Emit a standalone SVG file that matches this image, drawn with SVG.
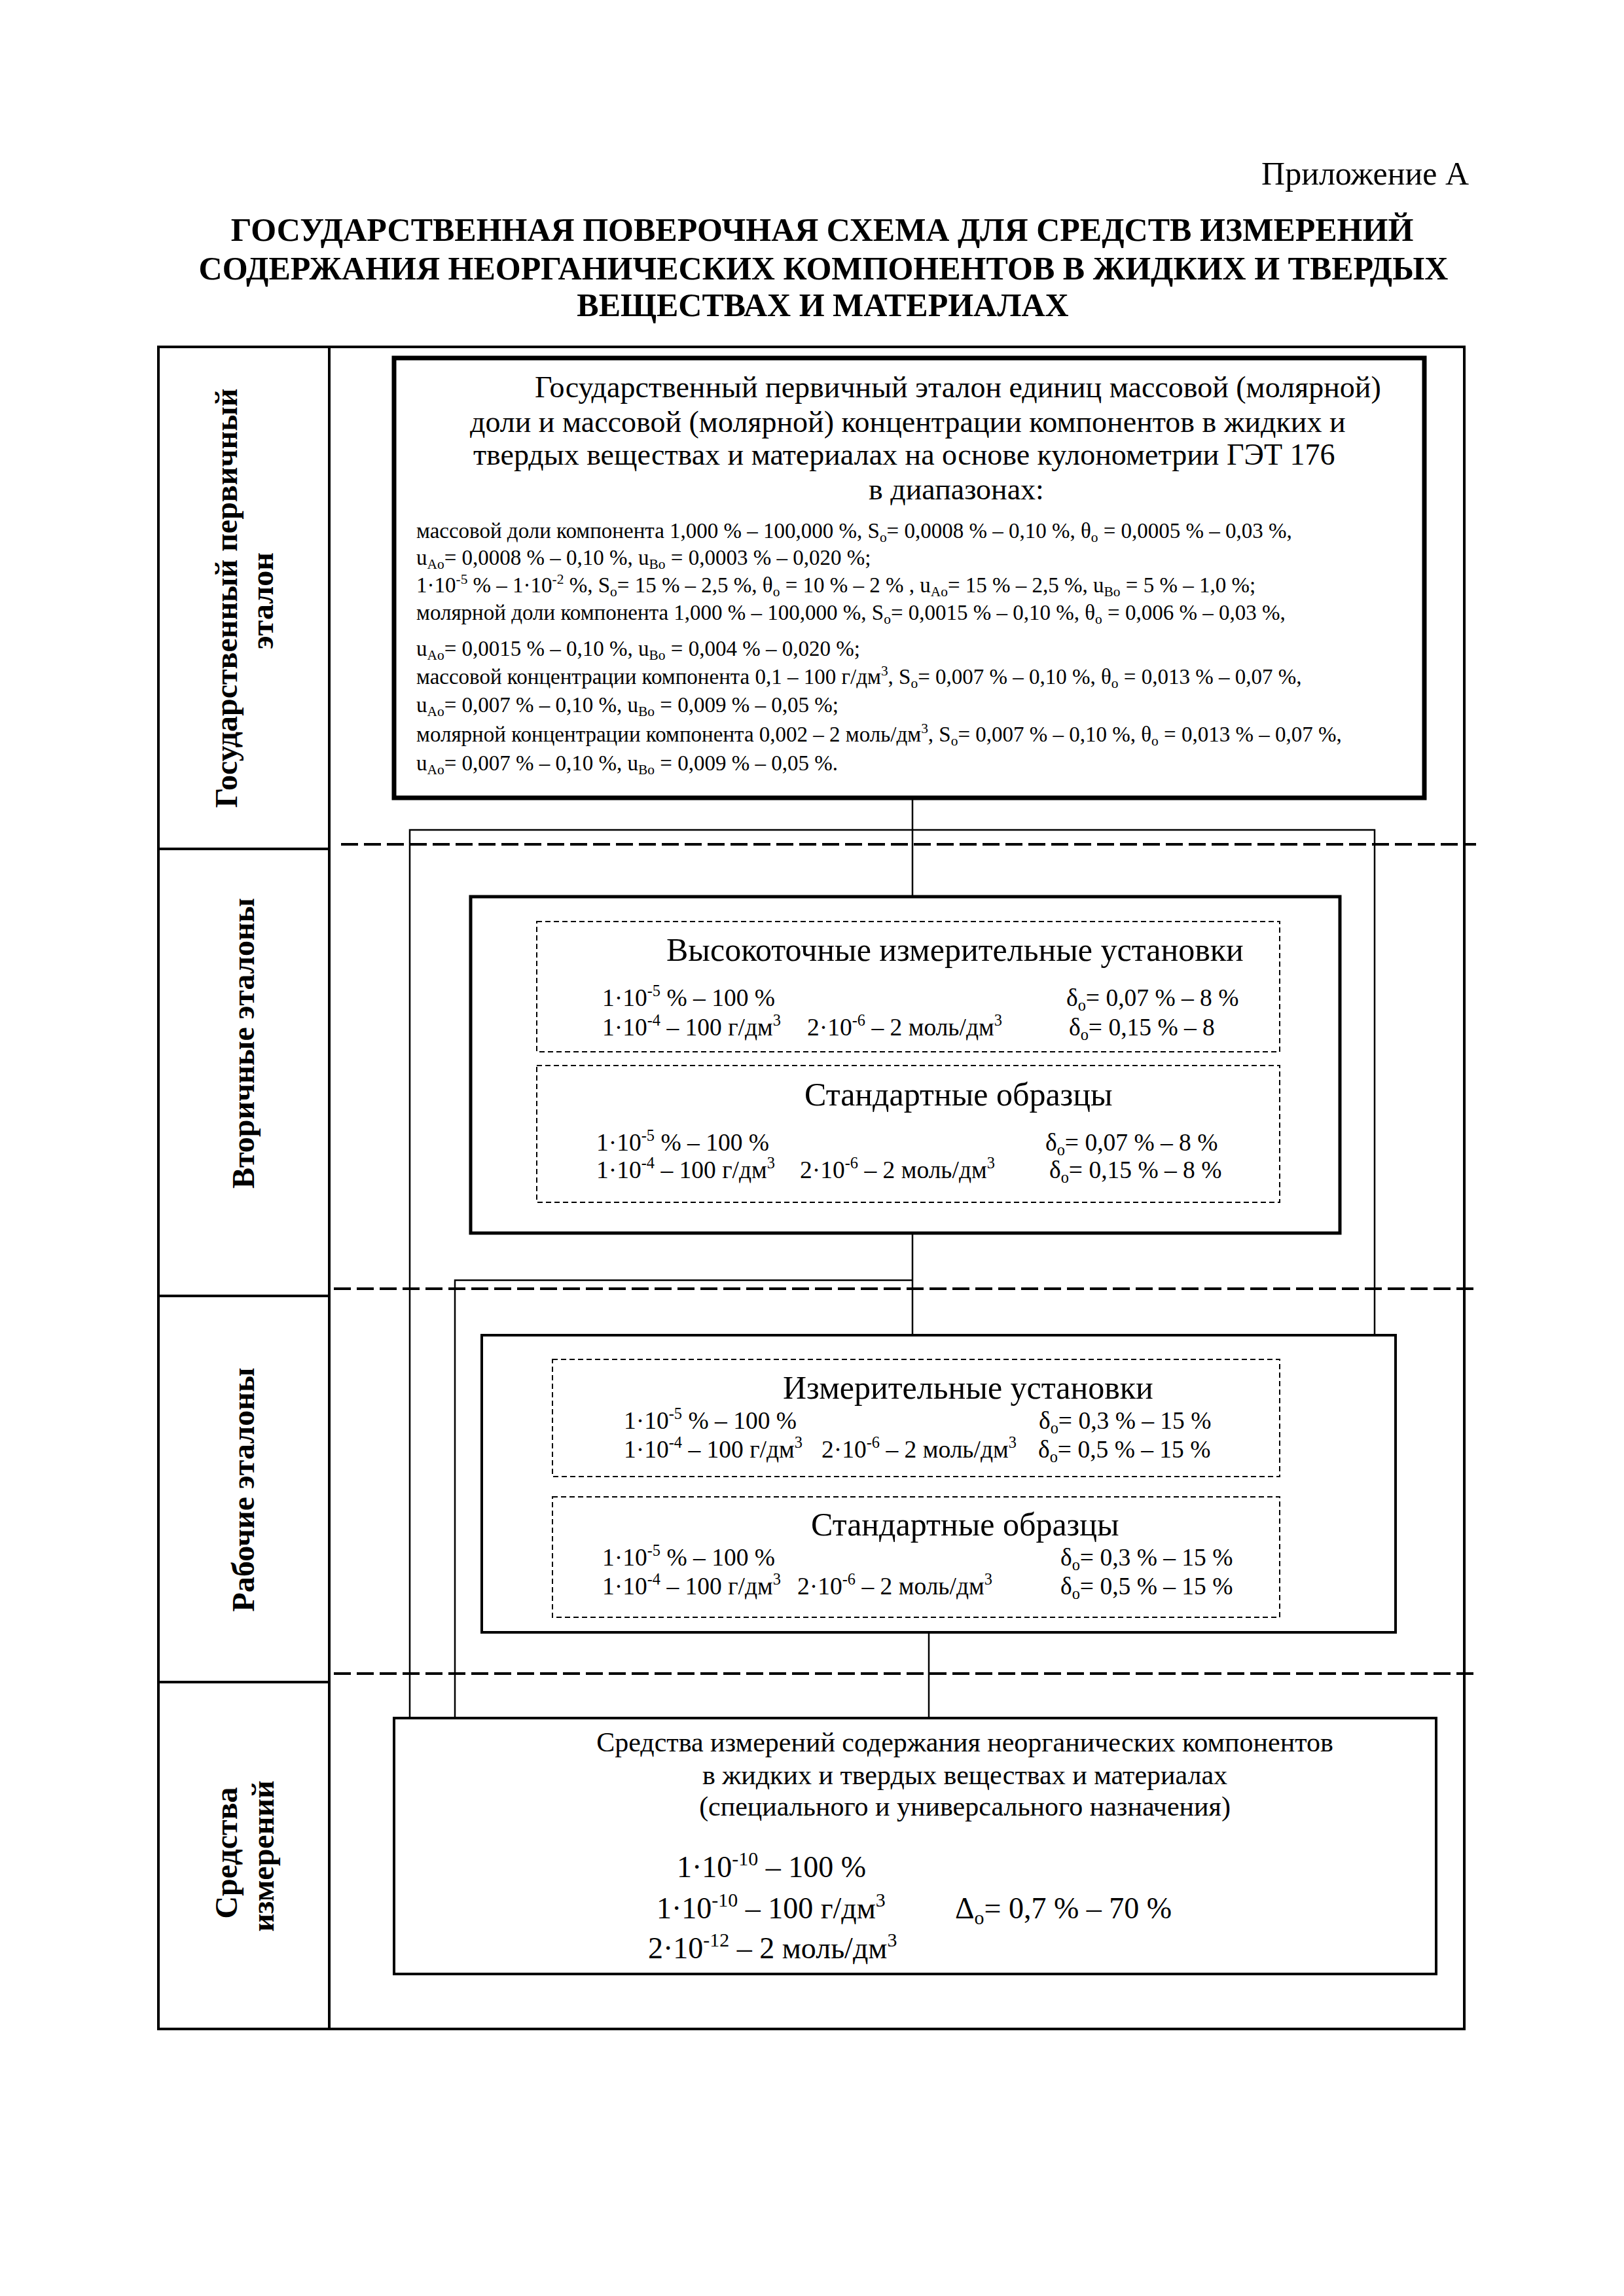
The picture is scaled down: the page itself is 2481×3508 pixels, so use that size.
<svg xmlns="http://www.w3.org/2000/svg" width="2481" height="3508" viewBox="0 0 2481 3508">
<style>
text{font-family:"Liberation Serif","Times New Roman","DejaVu Serif",serif;fill:#000}
.ttl{font-size:50px;font-weight:bold;text-anchor:middle}
.lbl{font-size:48px;font-weight:bold;text-anchor:middle}
.h46{font-size:46px}
.sm{font-size:33px}
.h50{font-size:50px}
.v{font-size:37.5px}
.h42{font-size:42px;text-anchor:middle}
.sub{font-size:65%;baseline-shift:-0.3em}
.sup{font-size:65%;baseline-shift:0.6em}
.frame{fill:none;stroke:#000}
.conn{fill:none;stroke:#000;stroke-width:2.5}
.dash{stroke:#000;stroke-width:4;stroke-dasharray:26 9}
.dbox{fill:none;stroke:#000;stroke-width:2;stroke-dasharray:8 5}
</style>
<rect width="2481" height="3508" fill="#fff"/>
<text x="2244" y="282" style="font-size:50px;text-anchor:end">Приложение А</text>
<text class="ttl" x="1256" y="368">ГОСУДАРСТВЕННАЯ ПОВЕРОЧНАЯ СХЕМА ДЛЯ СРЕДСТВ ИЗМЕРЕНИЙ</text>
<text class="ttl" x="1258" y="427">СОДЕРЖАНИЯ НЕОРГАНИЧЕСКИХ КОМПОНЕНТОВ В ЖИДКИХ И ТВЕРДЫХ</text>
<text class="ttl" x="1257" y="483">ВЕЩЕСТВАХ И МАТЕРИАЛАХ</text>
<g id="table">
<rect class="frame" x="242" y="530" width="1995" height="2570" stroke-width="4"/>
<line x1="503" y1="530" x2="503" y2="3100" stroke="#000" stroke-width="4"/>
<line x1="242" y1="1297" x2="503" y2="1297" stroke="#000" stroke-width="4"/>
<line x1="242" y1="1980" x2="503" y2="1980" stroke="#000" stroke-width="4"/>
<line x1="242" y1="2570" x2="503" y2="2570" stroke="#000" stroke-width="4"/>
<line class="dash" x1="521" y1="1290" x2="2255" y2="1290"/>
<line class="dash" x1="510" y1="1969" x2="2255" y2="1969"/>
<line class="dash" x1="510" y1="2557" x2="2255" y2="2557"/>
</g>
<g id="labels">
<text class="lbl" transform="translate(362,914) rotate(-90)">Государственный первичный</text>
<text class="lbl" transform="translate(417,918) rotate(-90)">эталон</text>
<text class="lbl" transform="translate(388,1594) rotate(-90)">Вторичные эталоны</text>
<text class="lbl" transform="translate(388,2276) rotate(-90)">Рабочие эталоны</text>
<text class="lbl" transform="translate(362,2831) rotate(-90)">Средства</text>
<text class="lbl" transform="translate(418,2836) rotate(-90)">измерений</text>
</g>
<g id="connectors">
<line class="conn" x1="1394" y1="1219" x2="1394" y2="1370"/>
<polyline class="conn" points="626,2625 626,1268 2100,1268 2100,2040"/>
<line class="conn" x1="1394" y1="1884" x2="1394" y2="2040"/>
<polyline class="conn" points="695,2625 695,1956 1394,1956"/>
<line class="conn" x1="1419" y1="2494" x2="1419" y2="2625"/>
</g>
<g id="primary">
<rect class="frame" x="602" y="547" width="1574" height="672" stroke-width="7" fill="#fff"/>
<text class="h46" x="817" y="607">Государственный первичный эталон единиц массовой (молярной)</text>
<text class="h46" x="718" y="660">доли и массовой (молярной) концентрации компонентов в жидких и</text>
<text class="h46" x="723" y="710">твердых веществах и материалах на основе кулонометрии ГЭТ 176</text>
<text class="h46" x="1461" y="763" text-anchor="middle">в диапазонах:</text>
<text class="sm" x="636" y="822">массовой доли компонента 1,000 % – 100,000 %, S<tspan class="sub">o</tspan>= 0,0008 % – 0,10 %, θ<tspan class="sub">o</tspan> = 0,0005 % – 0,03 %,</text>
<text class="sm" x="636" y="863">u<tspan class="sub">Ao</tspan>= 0,0008 % – 0,10 %, u<tspan class="sub">Bo</tspan> = 0,0003 % – 0,020 %;</text>
<text class="sm" x="636" y="905">1·10<tspan class="sup">-5</tspan> % – 1·10<tspan class="sup">-2</tspan> %, S<tspan class="sub">o</tspan>= 15 % – 2,5 %, θ<tspan class="sub">o</tspan> = 10 % – 2 % , u<tspan class="sub">Ao</tspan>= 15 % – 2,5 %, u<tspan class="sub">Bo</tspan> = 5 % – 1,0 %;</text>
<text class="sm" x="636" y="947">молярной доли компонента 1,000 % – 100,000 %, S<tspan class="sub">o</tspan>= 0,0015 % – 0,10 %, θ<tspan class="sub">o</tspan> = 0,006 % – 0,03 %,</text>
<text class="sm" x="636" y="1002">u<tspan class="sub">Ao</tspan>= 0,0015 % – 0,10 %, u<tspan class="sub">Bo</tspan> = 0,004 % – 0,020 %;</text>
<text class="sm" x="636" y="1045">массовой концентрации компонента 0,1 – 100 г/дм<tspan class="sup">3</tspan>, S<tspan class="sub">o</tspan>= 0,007 % – 0,10 %, θ<tspan class="sub">o</tspan> = 0,013 % – 0,07 %,</text>
<text class="sm" x="636" y="1088">u<tspan class="sub">Ao</tspan>= 0,007 % – 0,10 %, u<tspan class="sub">Bo</tspan> = 0,009 % – 0,05 %;</text>
<text class="sm" x="636" y="1133">молярной концентрации компонента 0,002 – 2 моль/дм<tspan class="sup">3</tspan>, S<tspan class="sub">o</tspan>= 0,007 % – 0,10 %, θ<tspan class="sub">o</tspan> = 0,013 % – 0,07 %,</text>
<text class="sm" x="636" y="1177">u<tspan class="sub">Ao</tspan>= 0,007 % – 0,10 %, u<tspan class="sub">Bo</tspan> = 0,009 % – 0,05 %.</text>
</g>
<g id="secondary">
<rect class="frame" x="719" y="1370" width="1328" height="514" stroke-width="5" fill="#fff"/>
<rect class="dbox" x="820" y="1408" width="1135" height="199"/>
<text class="h50" x="1018" y="1468">Высокоточные измерительные установки</text>
<text class="v" x="920" y="1537">1·10<tspan class="sup">-5</tspan> % – 100 %</text>
<text class="v" x="1629" y="1537">δ<tspan class="sub">o</tspan>= 0,07 % – 8 %</text>
<text class="v" x="920" y="1582">1·10<tspan class="sup">-4</tspan> – 100 г/дм<tspan class="sup">3</tspan></text>
<text class="v" x="1233" y="1582">2·10<tspan class="sup">-6</tspan> – 2 моль/дм<tspan class="sup">3</tspan></text>
<text class="v" x="1633" y="1582">δ<tspan class="sub">o</tspan>= 0,15 % – 8</text>
<rect class="dbox" x="820" y="1628" width="1135" height="209"/>
<text class="h50" x="1229" y="1689">Стандартные образцы</text>
<text class="v" x="911" y="1758">1·10<tspan class="sup">-5</tspan> % – 100 %</text>
<text class="v" x="1597" y="1758">δ<tspan class="sub">o</tspan>= 0,07 % – 8 %</text>
<text class="v" x="911" y="1800">1·10<tspan class="sup">-4</tspan> – 100 г/дм<tspan class="sup">3</tspan></text>
<text class="v" x="1222" y="1800">2·10<tspan class="sup">-6</tspan> – 2 моль/дм<tspan class="sup">3</tspan></text>
<text class="v" x="1603" y="1800">δ<tspan class="sub">o</tspan>= 0,15 % – 8 %</text>
</g>
<g id="working">
<rect class="frame" x="736" y="2040" width="1396" height="454" stroke-width="4" fill="#fff"/>
<rect class="dbox" x="844" y="2077" width="1111" height="179"/>
<text class="h50" x="1196" y="2137">Измерительные установки</text>
<text class="v" x="953" y="2183">1·10<tspan class="sup">-5</tspan> % – 100 %</text>
<text class="v" x="1587" y="2183">δ<tspan class="sub">o</tspan>= 0,3 % – 15 %</text>
<text class="v" x="953" y="2227">1·10<tspan class="sup">-4</tspan> – 100 г/дм<tspan class="sup">3</tspan></text>
<text class="v" x="1255" y="2227">2·10<tspan class="sup">-6</tspan> – 2 моль/дм<tspan class="sup">3</tspan></text>
<text class="v" x="1586" y="2227">δ<tspan class="sub">o</tspan>= 0,5 % – 15 %</text>
<rect class="dbox" x="844" y="2287" width="1111" height="184"/>
<text class="h50" x="1239" y="2346">Стандартные образцы</text>
<text class="v" x="920" y="2392">1·10<tspan class="sup">-5</tspan> % – 100 %</text>
<text class="v" x="1620" y="2392">δ<tspan class="sub">o</tspan>= 0,3 % – 15 %</text>
<text class="v" x="920" y="2436">1·10<tspan class="sup">-4</tspan> – 100 г/дм<tspan class="sup">3</tspan></text>
<text class="v" x="1218" y="2436">2·10<tspan class="sup">-6</tspan> – 2 моль/дм<tspan class="sup">3</tspan></text>
<text class="v" x="1620" y="2436">δ<tspan class="sub">o</tspan>= 0,5 % – 15 %</text>
</g>
<g id="instruments">
<rect class="frame" x="602" y="2625" width="1592" height="391" stroke-width="4" fill="#fff"/>
<text class="h42" x="1474" y="2676">Средства измерений содержания неорганических компонентов</text>
<text class="h42" x="1474" y="2726">в жидких и твердых веществах и материалах</text>
<text class="h42" x="1474" y="2774">(специального и универсального назначения)</text>
<text class="h46" x="1034" y="2868">1·10<tspan class="sup">-10</tspan> – 100 %</text>
<text class="h46" x="1003" y="2931">1·10<tspan class="sup">-10</tspan> – 100 г/дм<tspan class="sup">3</tspan></text>
<text class="h46" x="1459" y="2931">Δ<tspan class="sub">o</tspan>= 0,7 % – 70 %</text>
<text class="h46" x="990" y="2992">2·10<tspan class="sup">-12</tspan> – 2 моль/дм<tspan class="sup">3</tspan></text>
</g>
</svg>
